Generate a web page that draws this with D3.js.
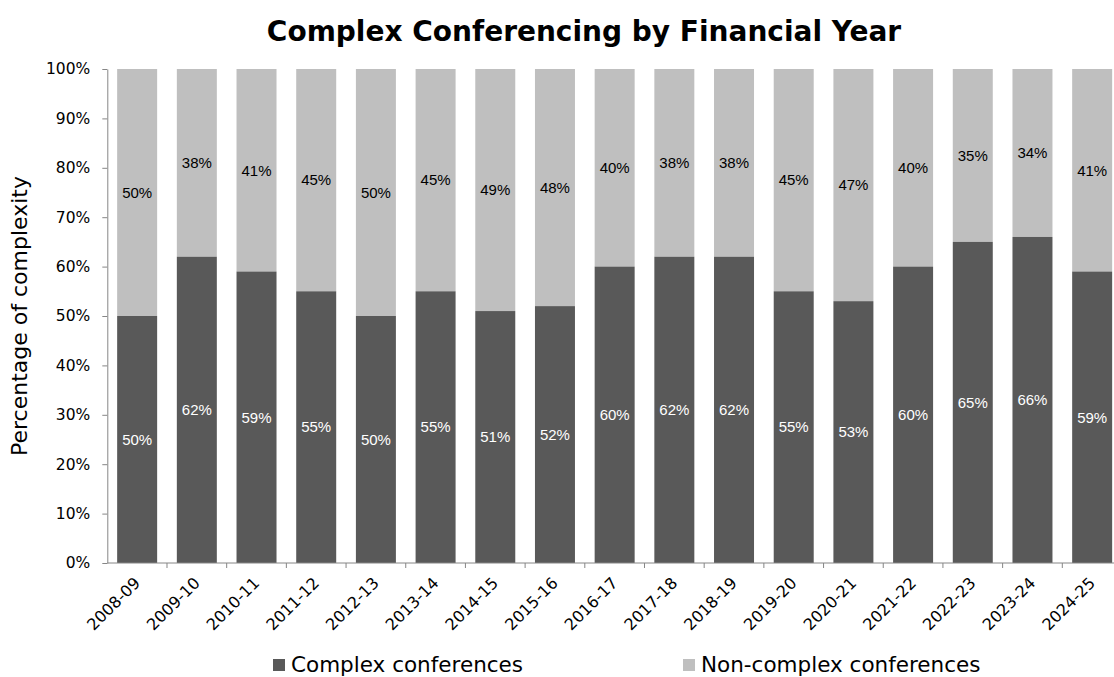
<!DOCTYPE html>
<html>
<head>
<meta charset="utf-8">
<script src="https://cdn.jsdelivr.net/npm/d3@7"></script>
<style>
  body { margin: 0; background: #fff; }
  svg { display: block; }
</style>
</head>
<body>
<svg id="chart" width="1114" height="677"></svg>
<script>
// Financial years shown on the x axis
const years = ["2008-09","2009-10","2010-11","2011-12","2012-13","2013-14","2014-15","2015-16",
  "2016-17","2017-18","2018-19","2019-20","2020-21","2021-22","2022-23","2023-24","2024-25"];
// Share of complex conferences (%)
const complexPct = [50,62,59,55,50,55,51,52,60,62,62,55,53,60,65,66,59];
// Share of non-complex conferences (%)
const nonComplexPct = [50,38,41,45,50,45,49,48,40,38,38,45,47,40,35,34,41];
const yTicks = [0,10,20,30,40,50,60,70,80,90,100];
const seriesNames = ["Complex conferences", "Non-complex conferences"];

const colors = { complex: "#595959", nonComplex: "#bfbfbf", axis: "#868686" };
const uiFont = "DejaVu Sans, Verdana, sans-serif";
const labelFont = "Liberation Sans, Arial, sans-serif";
const svg = d3.select("#chart");

const x = d3.scaleBand().domain(years).range([107.3, 1122])
  .paddingInner(0.33).paddingOuter(0.165);
const y = d3.scaleLinear().domain([0, 100]).range([563, 69]);

// Title
svg.append("text")
  .attr("x", 584).attr("y", 41)
  .attr("text-anchor", "middle")
  .attr("font-family", uiFont)
  .attr("font-weight", "bold")
  .attr("font-size", 28)
  .attr("fill", "#000")
  .text("Complex Conferencing by Financial Year");

// Stacked bars
const rows = years.map((yr, i) => ({ yr, c: complexPct[i], n: nonComplexPct[i] }));
const g = svg.append("g");

g.selectAll("rect.nc").data(rows).join("rect")
  .attr("class", "nc")
  .attr("x", d => x(d.yr)).attr("width", x.bandwidth())
  .attr("y", d => y(d.c + d.n)).attr("height", d => y(d.c) - y(d.c + d.n))
  .attr("fill", colors.nonComplex);

g.selectAll("rect.c").data(rows).join("rect")
  .attr("class", "c")
  .attr("x", d => x(d.yr)).attr("width", x.bandwidth())
  .attr("y", d => y(d.c)).attr("height", d => y(0) - y(d.c))
  .attr("fill", colors.complex);

// Value labels
g.selectAll("text.lc").data(rows).join("text")
  .attr("class", "lc")
  .attr("x", d => x(d.yr) + x.bandwidth() / 2)
  .attr("y", d => y(d.c / 2))
  .attr("dy", "0.35em")
  .attr("text-anchor", "middle")
  .attr("font-family", labelFont).attr("font-size", 15)
  .attr("fill", "#fff")
  .text(d => d.c + "%");

g.selectAll("text.ln").data(rows).join("text")
  .attr("class", "ln")
  .attr("x", d => x(d.yr) + x.bandwidth() / 2)
  .attr("y", d => y(d.c + d.n / 2))
  .attr("dy", "0.35em")
  .attr("text-anchor", "middle")
  .attr("font-family", labelFont).attr("font-size", 15)
  .attr("fill", "#000")
  .text(d => d.n + "%");

// Y axis
const yAxis = svg.append("g")
  .attr("transform", "translate(107.3,0)")
  .call(d3.axisLeft(y).tickValues(yTicks).tickFormat(d => d + "%").tickSize(5).tickPadding(12).tickSizeOuter(0));
yAxis.select(".domain").attr("stroke", colors.axis);
yAxis.selectAll(".tick line").attr("stroke", colors.axis);
yAxis.selectAll(".tick text")
  .attr("font-family", uiFont)
  .attr("font-size", 15.5).attr("fill", "#000");

// X axis: ticks sit on the band boundaries
const xAxisG = svg.append("g").attr("transform", `translate(0,${y(0)})`);
xAxisG.append("line")
  .attr("x1", x.range()[0]).attr("x2", x.range()[1])
  .attr("stroke", colors.axis);
const step = x.step();
const boundaries = years.map((_, i) => x.range()[0] + i * step).slice(1);
xAxisG.selectAll("line.tk").data(boundaries).join("line")
  .attr("class", "tk")
  .attr("x1", d => d).attr("x2", d => d)
  .attr("y1", 0).attr("y2", 5)
  .attr("stroke", colors.axis);
xAxisG.selectAll("text.xl").data(years).join("text")
  .attr("class", "xl")
  .attr("transform", d => `translate(${x(d) + x.bandwidth() / 2 + 4},${21}) rotate(-45)`)
  .attr("text-anchor", "end")
  .attr("font-family", uiFont)
  .attr("font-size", 16).attr("fill", "#000")
  .text(d => d);

// Y axis title
svg.append("text")
  .attr("transform", "translate(27,316) rotate(-90)")
  .attr("text-anchor", "middle")
  .attr("font-family", uiFont)
  .attr("font-size", 22).attr("fill", "#000")
  .text("Percentage of complexity");

// Legend
const legend = svg.append("g");
const legendItems = [
  { name: seriesNames[0], color: colors.complex, x: 273 },
  { name: seriesNames[1], color: colors.nonComplex, x: 683 }
];
legendItems.forEach(it => {
  legend.append("rect").attr("x", it.x).attr("y", 659).attr("width", 12).attr("height", 12).attr("fill", it.color);
  legend.append("text").attr("x", it.x + 18).attr("y", 672)
    .attr("font-family", uiFont)
    .attr("font-size", 21.5).attr("fill", "#000")
    .text(it.name);
});
</script>
</body>
</html>
